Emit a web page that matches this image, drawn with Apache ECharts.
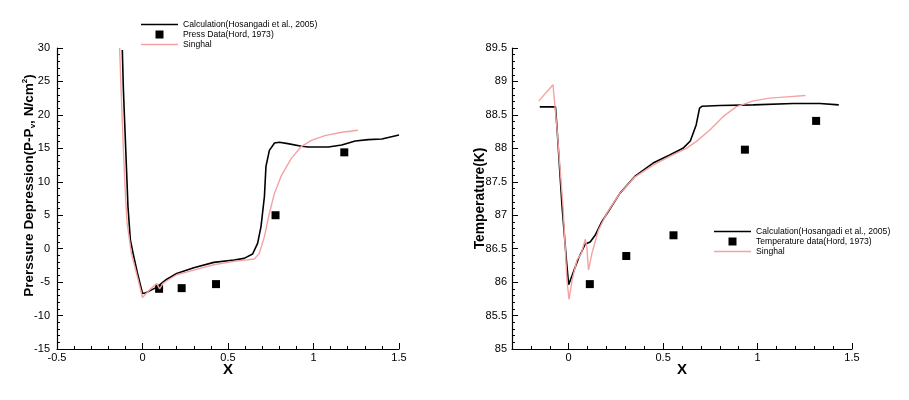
<!DOCTYPE html>
<html><head><meta charset="utf-8">
<script src="https://cdn.jsdelivr.net/npm/echarts@6/dist/echarts.min.js"></script>
<style>html,body{margin:0;padding:0;background:#fff}#c{width:909px;height:400px}</style>
</head><body><div id="c"></div>
<script>
// ---- Left chart: pressure depression ----
var leftX_calc = [-0.118, -0.112, -0.104, -0.085, -0.071, -0.055, -0.03, 0.0, 0.02, 0.05, 0.073, 0.1, 0.14, 0.2, 0.3, 0.417, 0.535, 0.594, 0.644, 0.673, 0.693, 0.713, 0.722, 0.742, 0.772, 0.8, 0.85, 0.93, 0.97, 1.087, 1.165, 1.244, 1.32, 1.40, 1.5];
var leftY_calc = [29.7, 24, 18.7, 6.3, 1.3, -0.7, -3.6, -6.7, -6.6, -6.2, -5.9, -5.4, -4.6, -3.7, -2.85, -2.05, -1.7, -1.45, -0.8, 0.8, 3.3, 7.8, 12.3, 14.7, 15.8, 15.9, 15.7, 15.3, 15.2, 15.2, 15.5, 16.1, 16.3, 16.4, 17.0];
var leftX_sing = [-0.134, -0.124, -0.114, -0.1, -0.09, -0.065, -0.03, 0.0, 0.04, 0.083, 0.1, 0.12, 0.142, 0.2, 0.3, 0.417, 0.535, 0.654, 0.683, 0.713, 0.742, 0.772, 0.81, 0.87, 0.93, 0.988, 1.067, 1.165, 1.26];
var leftY_sing = [30, 23, 16.2, 8, 3.8, -0.7, -4.2, -7.3, -6.2, -5.2, -6.0, -5.2, -4.8, -3.9, -3.2, -2.4, -1.9, -1.55, -0.7, 1.8, 5.3, 8.3, 10.8, 13.5, 15.3, 16.2, 16.9, 17.4, 17.7];
var leftX_data = [0.097, 0.229, 0.43, 0.778, 1.18];
var leftY_data = [-6.0, -5.9, -5.3, 5.0, 14.4];

// ---- Right chart: temperature ----
var rightX_calc = [-0.153, -0.07, -0.062, -0.035, -0.012, 0, 0.026, 0.053, 0.088, 0.114, 0.14, 0.175, 0.22, 0.272, 0.35, 0.447, 0.535, 0.605, 0.644, 0.675, 0.693, 0.707, 0.8, 0.977, 1.188, 1.33, 1.43];
var rightY_calc = [88.62, 88.62, 88.32, 87.13, 86.33, 85.96, 86.16, 86.36, 86.57, 86.6, 86.7, 86.9, 87.1, 87.33, 87.58, 87.78, 87.9, 88.0, 88.11, 88.35, 88.6, 88.63, 88.64, 88.65, 88.67, 88.67, 88.65];
var rightX_sing = [-0.158, -0.083, -0.061, -0.03, -0.009, 0.002, 0.018, 0.044, 0.067, 0.088, 0.096, 0.105, 0.123, 0.158, 0.202, 0.272, 0.35, 0.447, 0.535, 0.623, 0.675, 0.746, 0.816, 0.886, 0.977, 1.065, 1.153, 1.254];
var rightY_sing = [88.71, 88.95, 88.27, 87.13, 86.03, 85.74, 86.03, 86.33, 86.43, 86.64, 86.53, 86.18, 86.43, 86.78, 87.03, 87.33, 87.57, 87.75, 87.88, 88.0, 88.1, 88.27, 88.47, 88.62, 88.71, 88.75, 88.77, 88.79];
var rightX_data = [0.112, 0.305, 0.555, 0.933, 1.31];
var rightY_data = [85.97, 86.39, 86.7, 87.98, 88.41];

// ---- tick labels / names ----
var rightXMajor = [0, 0.5, 1, 1.5];
var nameCalc = 'Calculation(Hosangadi et al., 2005)';
var namePress = 'Press Data(Hord, 1973)';
var nameTemp = 'Temperature data(Hord, 1973)';
var nameSing = 'Singhal';

function zip(a, b) { return a.map(function (v, i) { return [v, b[i]]; }); }

var FONT = 'Liberation Sans';
var PINK = '#f5a2a2';
var axisCommon = {
  axisLine: { show: true, onZero: false, lineStyle: { color: '#000', width: 1.2 } },
  splitLine: { show: false },
  axisTick: { inside: true, length: 6, lineStyle: { color: '#000' } },
  minorTick: { show: true, splitNumber: 5, length: 3, lineStyle: { color: '#000' } },
  axisLabel: { color: '#000', fontFamily: FONT, fontSize: 11, margin: 5 },
  nameMoveOverlap: false
};
function ax(extra) { return Object.assign(JSON.parse(JSON.stringify(axisCommon)), extra); }

var squareIcon = 'path://M0,0L1,0L1,1L0,1Z';
var blackLineIcon = 'path://M0,0L37,0L37,1.6L0,1.6Z';
var pinkLineIcon = 'path://M0,0L37,0L37,1.4L0,1.4Z';
var legendCommon = {
  orient: 'vertical', itemWidth: 37, itemHeight: 8, itemGap: 1, symbolKeepAspect: true, padding: 0,
  textStyle: { fontFamily: FONT, fontSize: 8.6, color: '#000', lineHeight: 9 },
  selectedMode: false
};

var chart = echarts.init(document.getElementById('c'), null, { renderer: 'canvas' });
chart.setOption({
  animation: false,
  backgroundColor: '#fff',
  grid: [
    { left: 57, top: 48, width: 342, height: 301 },
    { left: 512, top: 48, width: 340, height: 301 }
  ],
  legend: [
    Object.assign({ left: 141, top: 20, data: [{ name: nameCalc, icon: blackLineIcon }, { name: namePress, icon: squareIcon }, { name: nameSing, icon: pinkLineIcon }] }, legendCommon),
    Object.assign({ left: 714, top: 227, data: [{ name: nameCalc, icon: blackLineIcon }, { name: nameTemp, icon: squareIcon }, { name: nameSing, icon: pinkLineIcon }] }, legendCommon)
  ],
  xAxis: [
    ax({ gridIndex: 0, type: 'value', min: -0.5, max: 1.5, interval: 0.5, position: 'bottom',
         axisLabel: { color: '#000', fontFamily: FONT, fontSize: 11, margin: 3 },
         name: 'X', nameLocation: 'middle', nameGap: 13,
         nameTextStyle: { fontFamily: FONT, fontWeight: 'bold', fontSize: 15, color: '#000', verticalAlign: 'top' } }),
    ax({ gridIndex: 1, type: 'value', min: -0.3, max: 1.5, interval: 0.1, position: 'bottom',
         axisLabel: { show: false }, axisTick: { inside: true, length: 3, lineStyle: { color: '#000' } },
         minorTick: { show: false } }),
    ax({ gridIndex: 1, type: 'value', min: -0.3, max: 1.5, position: 'bottom',
         axisLine: { show: false },
         axisTick: { inside: true, length: 6, customValues: rightXMajor, lineStyle: { color: '#000' } },
         minorTick: { show: false },
         axisLabel: { color: '#000', fontFamily: FONT, fontSize: 11, margin: 3, customValues: rightXMajor },
         name: 'X', nameLocation: 'middle', nameGap: 13,
         nameTextStyle: { fontFamily: FONT, fontWeight: 'bold', fontSize: 15, color: '#000', verticalAlign: 'top' } })
  ],
  yAxis: [
    ax({ gridIndex: 0, type: 'value', min: -15, max: 30, interval: 5,
         axisLabel: { color: '#000', fontFamily: FONT, fontSize: 11, margin: 7 },
         name: '{b|Prerssure Depression(P-P}{s|v}{b|, N/cm}{p|2}{b|)}',
         nameLocation: 'middle', nameGap: 20, nameRotate: 90,
         nameTextStyle: { color: '#000', padding: [0, 0, 0, 26], rich: {
           b: { fontFamily: FONT, fontWeight: 'bold', fontSize: 13.6, lineHeight: 16, color: '#000' },
           s: { fontFamily: FONT, fontWeight: 'bold', fontSize: 8, lineHeight: 16, verticalAlign: 'bottom', color: '#000' },
           p: { fontFamily: FONT, fontWeight: 'bold', fontSize: 8, lineHeight: 16, verticalAlign: 'top', color: '#000' }
         } } }),
    ax({ gridIndex: 1, type: 'value', min: 85, max: 89.5, interval: 0.5,
         name: 'Temperature(K)', nameLocation: 'middle', nameGap: 25, nameRotate: 90,
         nameTextStyle: { fontFamily: FONT, fontWeight: 'bold', fontSize: 13.8, color: '#000' } })
  ],
  series: [
    { name: nameCalc, type: 'line', xAxisIndex: 0, yAxisIndex: 0, data: zip(leftX_calc, leftY_calc),
      symbol: 'none', smooth: false, color: '#000', lineStyle: { color: '#000', width: 1.6 } },
    { name: nameSing, type: 'line', xAxisIndex: 0, yAxisIndex: 0, data: zip(leftX_sing, leftY_sing),
      symbol: 'none', color: PINK, lineStyle: { color: PINK, width: 1.4 } },
    { name: namePress, type: 'scatter', xAxisIndex: 0, yAxisIndex: 0, data: zip(leftX_data, leftY_data),
      symbol: 'rect', symbolSize: 8, color: '#000', itemStyle: { color: '#000', opacity: 1 } },
    { name: nameCalc, type: 'line', xAxisIndex: 2, yAxisIndex: 1, data: zip(rightX_calc, rightY_calc),
      symbol: 'none', color: '#000', lineStyle: { color: '#000', width: 1.6 } },
    { name: nameSing, type: 'line', xAxisIndex: 2, yAxisIndex: 1, data: zip(rightX_sing, rightY_sing),
      symbol: 'none', color: PINK, lineStyle: { color: PINK, width: 1.4 } },
    { name: nameTemp, type: 'scatter', xAxisIndex: 2, yAxisIndex: 1, data: zip(rightX_data, rightY_data),
      symbol: 'rect', symbolSize: 8, color: '#000', itemStyle: { color: '#000', opacity: 1 } }
  ]
});
</script></body></html>
